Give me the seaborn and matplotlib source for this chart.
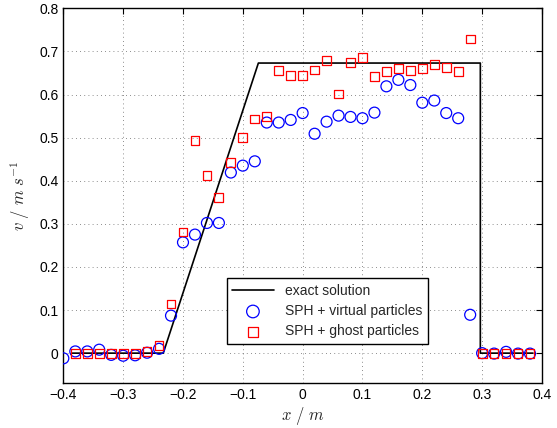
import numpy as np
import pandas as pd
import seaborn as sns
import matplotlib.pyplot as plt

# exact solution (piecewise linear profile)
exact_x = [-0.385, -0.233, -0.074, 0.297, 0.297, 0.385]
exact_v = [0.0, 0.0, 0.673, 0.673, 0.0, 0.0]

# SPH + virtual particles
virtual_x = [-0.40, -0.38, -0.36, -0.34, -0.32, -0.30, -0.28, -0.26, -0.24, -0.22,
             -0.20, -0.18, -0.16, -0.14, -0.12, -0.10, -0.08, -0.06, -0.04, -0.02,
             0.00, 0.02, 0.04, 0.06, 0.08, 0.10, 0.12, 0.14, 0.16, 0.18,
             0.20, 0.22, 0.24, 0.26, 0.28, 0.30, 0.32, 0.34, 0.36, 0.38]
virtual_v = [-0.012, 0.004, 0.004, 0.008, -0.004, -0.006, -0.005, 0.001, 0.010, 0.087,
             0.257, 0.275, 0.302, 0.302, 0.419, 0.435, 0.445, 0.535, 0.535, 0.541,
             0.557, 0.509, 0.537, 0.551, 0.548, 0.545, 0.558, 0.619, 0.634, 0.622,
             0.581, 0.586, 0.557, 0.545, 0.089, 0.000, -0.001, 0.003, -0.001, -0.001]

# SPH + ghost particles
ghost_x = [-0.38, -0.36, -0.34, -0.32, -0.30, -0.28, -0.26, -0.24, -0.22,
           -0.20, -0.18, -0.16, -0.14, -0.12, -0.10, -0.08, -0.06, -0.04, -0.02,
           0.00, 0.02, 0.04, 0.06, 0.08, 0.10, 0.12, 0.14, 0.16, 0.18,
           0.20, 0.22, 0.24, 0.26, 0.28, 0.30, 0.32, 0.34, 0.36, 0.38]
ghost_v = [0.000, 0.000, -0.001, 0.000, 0.000, 0.000, 0.003, 0.018, 0.114,
           0.281, 0.493, 0.412, 0.361, 0.442, 0.500, 0.543, 0.549, 0.655, 0.644,
           0.644, 0.657, 0.678, 0.601, 0.674, 0.686, 0.642, 0.653, 0.661, 0.656,
           0.660, 0.670, 0.663, 0.653, 0.729, 0.000, 0.000, 0.000, 0.000, 0.000]

sns.set_style("white")
plt.rcParams['font.family'] = ['Liberation Sans', 'DejaVu Sans']
plt.rcParams['mathtext.fontset'] = 'cm'
plt.rcParams['font.size'] = 10

fig = plt.figure(figsize=(5.57, 4.28), dpi=100)
ax = fig.add_axes([0.1137, 0.1044, 0.973 - 0.1137, 0.9806 - 0.1044])

exact_df = pd.DataFrame({"x": exact_x, "v": exact_v})
sns.lineplot(data=exact_df, x="x", y="v", sort=False, estimator=None,
             color="black", linewidth=1.2, label="exact solution", ax=ax, zorder=2)
sns.scatterplot(x=virtual_x, y=virtual_v, marker="o", s=62, facecolor="none",
                edgecolor=(0, 0, 1), linewidth=0.9, label="SPH + virtual particles",
                ax=ax, zorder=3)
sns.scatterplot(x=ghost_x, y=ghost_v, marker="s", s=40, facecolor="none",
                edgecolor=(1, 0, 0), linewidth=0.9, label="SPH + ghost particles",
                ax=ax, zorder=3)

ax.set_xlim(-0.4, 0.4)
ax.set_ylim(-0.07, 0.8)
ax.set_xticks(np.arange(-0.4, 0.41, 0.1))
ax.set_yticks(np.arange(0, 0.81, 0.1))
ax.set_xticklabels(["\u22120.4", "\u22120.3", "\u22120.2", "\u22120.1", "0",
                    "0.1", "0.2", "0.3", "0.4"])
ax.set_yticklabels(["0", "0.1", "0.2", "0.3", "0.4", "0.5", "0.6", "0.7", "0.8"])
ax.tick_params(direction="in", top=True, right=True, length=4, width=0.8,
               labelsize=10, colors="black")
ax.grid(True, linestyle=(0, (1, 4)), color="black", linewidth=0.6, alpha=0.6)
for sp in ax.spines.values():
    sp.set_color("black")
    sp.set_linewidth(1.0)

ax.set_xlabel(r"$x\ /\ m$", fontsize=12, labelpad=2)
ax.set_ylabel(r"$v\ /\ m\ s^{-1}$", fontsize=12, labelpad=5)

# легенда в нижней части, как в оригинале
leg = ax.legend(loc="lower left", bbox_to_anchor=(0.341, 0.105), borderaxespad=0,
                fontsize=10, frameon=True, fancybox=False, framealpha=1,
                edgecolor="black", borderpad=0.4, labelspacing=0.45,
                handlelength=3.0, markerscale=1.15)
leg.get_frame().set_linewidth(1.0)

fig.savefig("out.png", dpi=100)
